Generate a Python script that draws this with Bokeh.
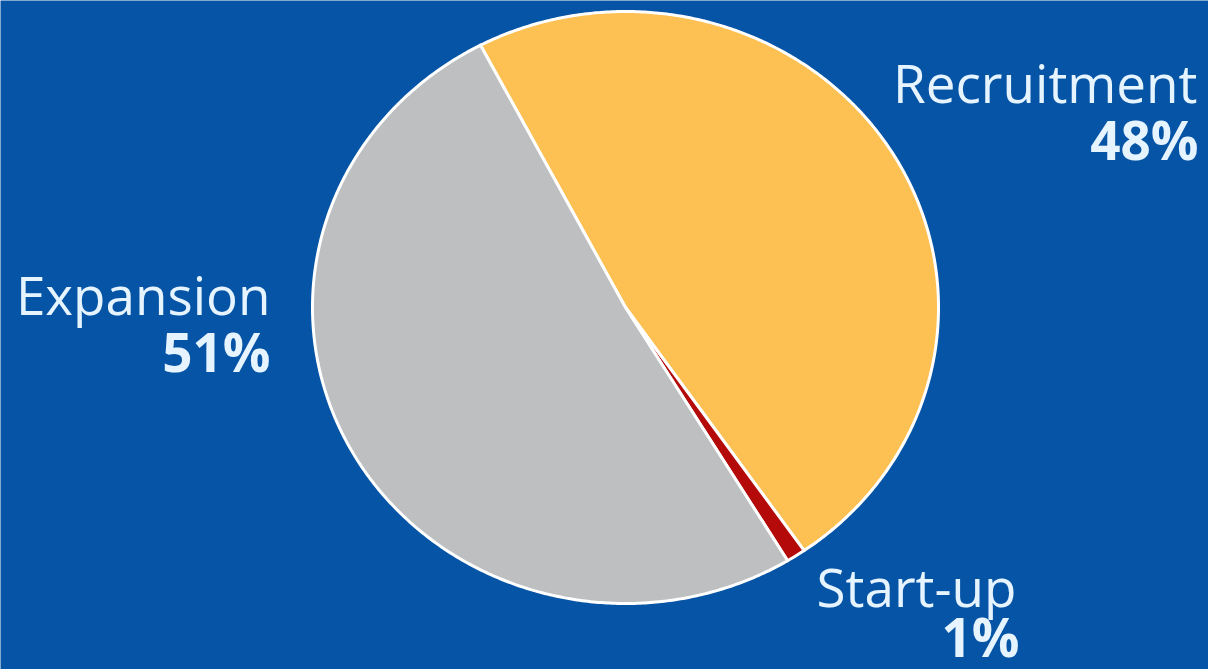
import numpy as np
from bokeh.plotting import figure
from bokeh.models import Range1d, ColumnDataSource
from bokeh.core.properties import value
from bokeh.embed import file_html
from bokeh.resources import INLINE

# ---- data ----
categories = ["Recruitment", "Start-up", "Expansion"]
shares = [48, 1, 51]
pct_labels = ["48%", "1%", "51%"]
colors = ["#FDC052", "#B40A0A", "#BEBFC1"]

BG = "#0554A6"
TXT = "#E6F4FF"

W, H = 1208, 669
p = figure(width=W, height=H, output_backend="svg", toolbar_location=None,
           x_range=Range1d(0, W), y_range=Range1d(H, 0),
           background_fill_color=BG, border_fill_color=BG, min_border=0)
p.axis.visible = False
p.grid.visible = False
p.outline_line_color = None

# pie geometry (screen-ish units, y downward)
cx, cy, rx, ry = 625, 307, 313, 296
start_deg = 117.6  # math angle, counter-clockwise from +x; slices go clockwise

xs, ys = [], []
ang = start_deg
for s in shares:
    sweep = s / 100 * 360
    t = np.radians(np.linspace(ang, ang - sweep, max(int(sweep * 2), 4)))
    px = [cx] + list(cx + rx * np.cos(t)) + [cx]
    py = [cy] + list(cy - ry * np.sin(t)) + [cy]
    xs.append(px)
    ys.append(py)
    ang -= sweep

src = ColumnDataSource(dict(xs=xs, ys=ys, color=colors))
p.patches("xs", "ys", source=src, fill_color="color", line_color="white",
          line_width=3, line_join="round")

# labels
lab_x = [1197, 1016, 270]
lab_y = [82, 586, 294]
pct_x = [1198, 1019, 270]
pct_y = [139, 636, 351]
FONT = "Open Sans"
p.text(x=lab_x, y=lab_y, text=categories, text_color=TXT,
       text_font=value(FONT), text_font_size="53px",
       text_align="right", text_baseline="alphabetic")
p.text(x=pct_x, y=pct_y, text=pct_labels, text_color=TXT,
       text_font=value(FONT), text_font_size="53px", text_font_style="bold",
       text_align="right", text_baseline="alphabetic")

open("out.html", "w").write(file_html(p, INLINE))
